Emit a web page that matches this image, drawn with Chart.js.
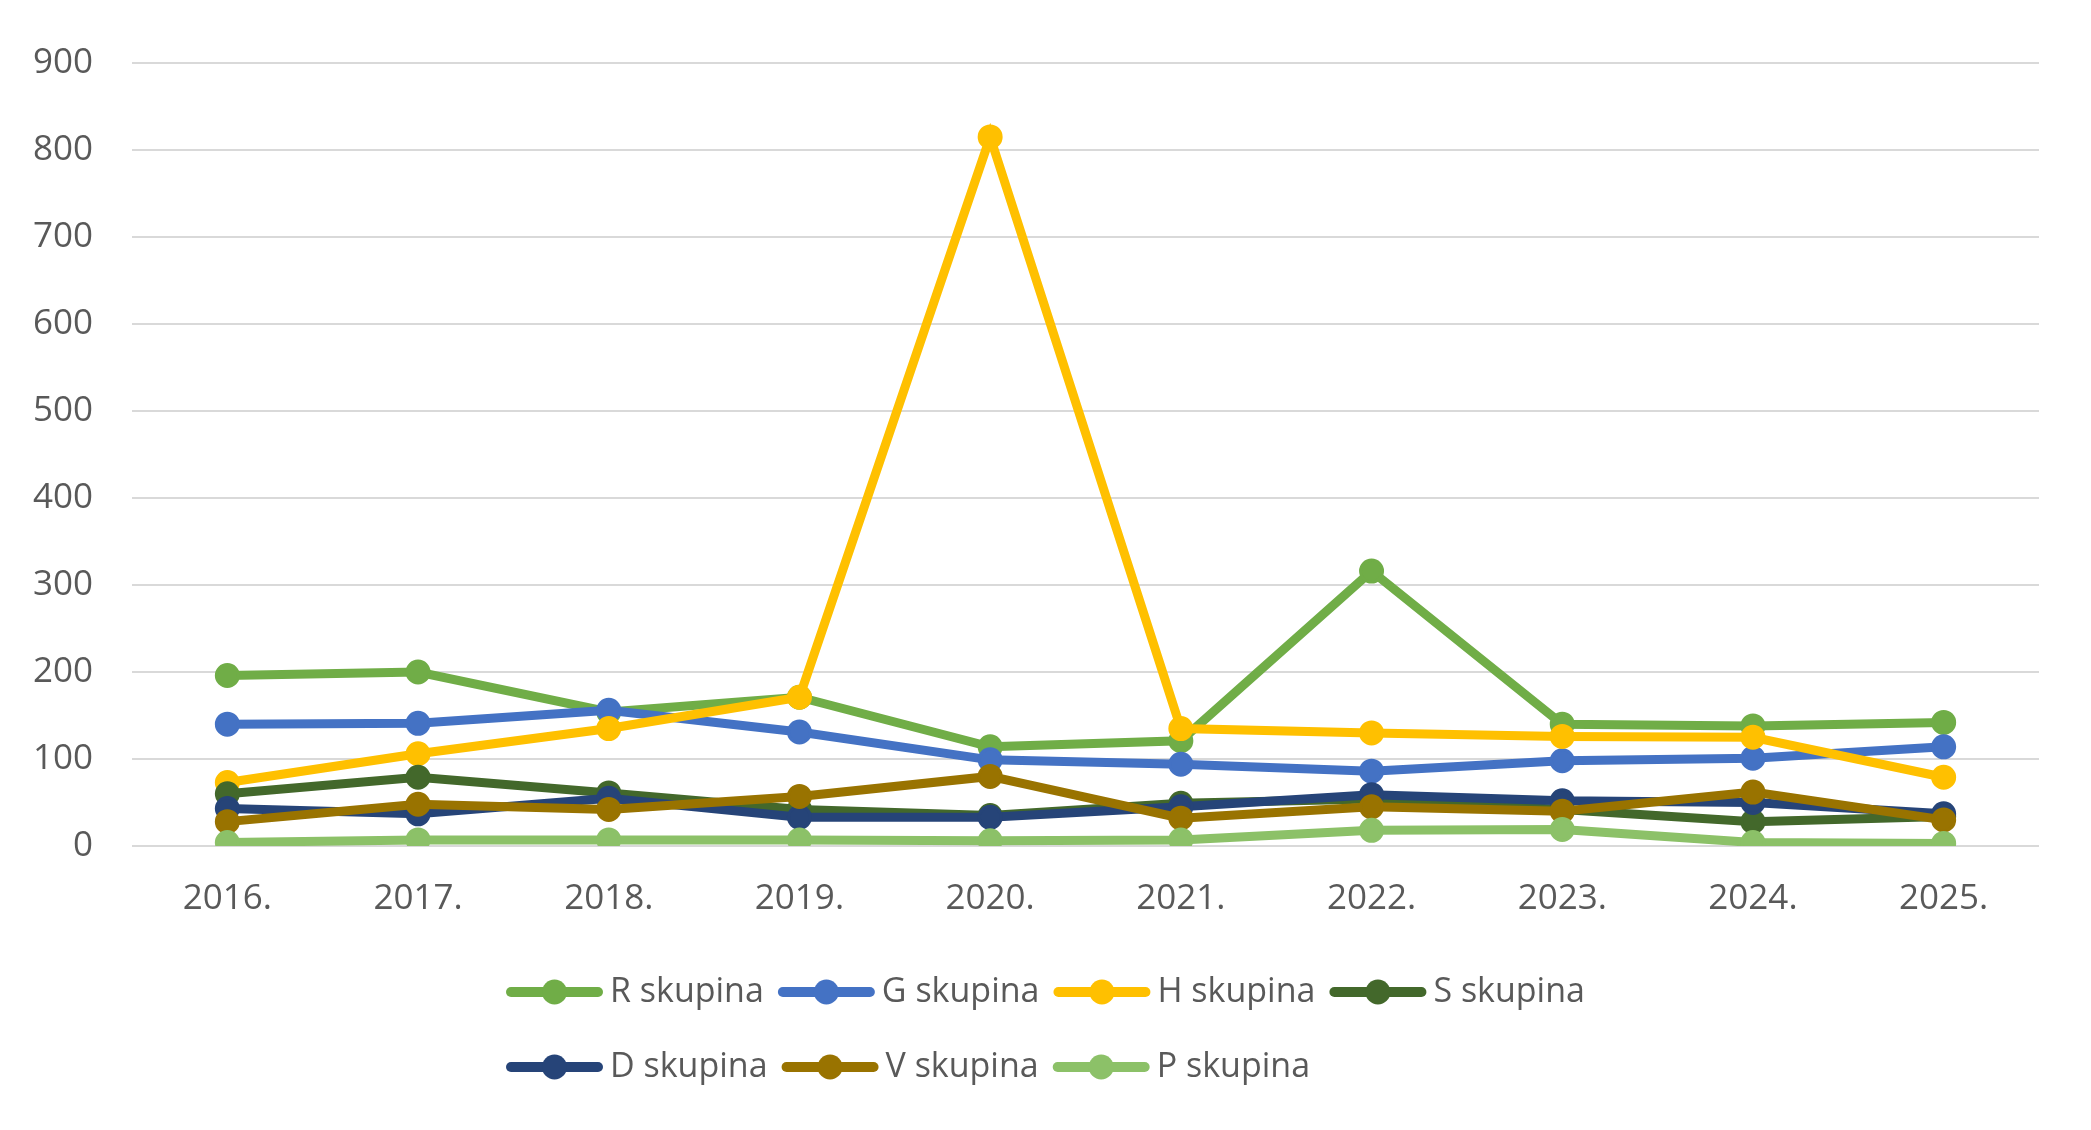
<!DOCTYPE html>
<html>
<head>
<meta charset="utf-8">
<script src="https://cdn.jsdelivr.net/npm/chart.js@4/dist/chart.umd.min.js"></script>
<style>
  html, body { margin: 0; padding: 0; background: #ffffff; }
  #wrap { width: 2091px; height: 1130px; position: relative; }
</style>
</head>
<body>
<div id="wrap"><canvas id="c"></canvas></div>
<script>
const categories = ['2016.', '2017.', '2018.', '2019.', '2020.', '2021.', '2022.', '2023.', '2024.', '2025.'];
const seriesNames = ['R skupina', 'G skupina', 'H skupina', 'S skupina', 'D skupina', 'V skupina', 'P skupina'];
const rValues = [196, 200, 154, 171, 114, 121, 316, 140, 138, 142];
const gValues = [140, 141, 156, 131, 99, 94, 86, 98, 101, 114];
const hValues = [73, 106, 135, 171, 815, 135, 130, 126, 125, 79];
const sValues = [60, 79, 61, 42, 35, 49, 54, 42, 28, 34];
const dValues = [43, 37, 55, 33, 33, 45, 59, 52, 50, 37];
const vValues = [28, 48, 42, 57, 80, 32, 45, 40, 62, 30];
const pValues = [4, 7, 7, 7, 6, 7, 18, 19, 4, 3];
const yTicks = [0, 100, 200, 300, 400, 500, 600, 700, 800, 900];

const seriesValues = [rValues, gValues, hValues, sValues, dValues, vValues, pValues];
const colors = ['#70AD47', '#4472C4', '#FFC000', '#43682B', '#264478', '#997300', '#8CC168'];
const FONT = '"Open Sans", "Noto Sans", sans-serif';
const TEXT = '#595959';

const datasets = seriesNames.map((name, i) => ({
  label: name,
  data: seriesValues[i],
  borderColor: colors[i],
  backgroundColor: colors[i],
  pointBackgroundColor: colors[i],
  pointBorderColor: colors[i],
  borderWidth: 9,
  pointRadius: 11,
  pointBorderWidth: 3,
  pointHoverRadius: 11,
  tension: 0,
  fill: false,
  order: seriesNames.length - i
}));

const customLegend = {
  id: 'customLegend',
  afterDraw(chart) {
    const ctx = chart.ctx;
    const rows = [[0, 1, 2, 3], [4, 5, 6]];
    const rowY = [992, 1067];
    const startX = 506;
    ctx.save();
    ctx.font = '34px ' + FONT;
    ctx.textBaseline = 'middle';
    ctx.textAlign = 'left';
    rows.forEach((row, r) => {
      let x = startX;
      const y = rowY[r];
      row.forEach(idx => {
        const ds = chart.data.datasets[idx];
        ctx.strokeStyle = ds.borderColor;
        ctx.lineWidth = 10;
        ctx.lineCap = 'round';
        ctx.beginPath();
        ctx.moveTo(x + 5, y);
        ctx.lineTo(x + 92, y);
        ctx.stroke();
        ctx.fillStyle = ds.borderColor;
        ctx.beginPath();
        ctx.arc(x + 48.5, y, 12.5, 0, Math.PI * 2);
        ctx.fill();
        ctx.fillStyle = TEXT;
        ctx.fillText(ds.label, x + 104, y);
        x += 104 + ctx.measureText(ds.label).width + 14;
      });
    });
    ctx.restore();
  }
};

new Chart(document.getElementById('c'), {
  type: 'line',
  data: { labels: categories, datasets },
  options: {
    responsive: true,
    maintainAspectRatio: false,
    animation: false,
    layout: { padding: { left: 32, right: 52, top: 63, bottom: 210 } },
    plugins: {
      legend: { display: false },
      tooltip: { enabled: false }
    },
    scales: {
      x: {
        offset: true,
        grid: { display: false, drawTicks: false },
        border: { display: false },
        afterFit(axis) { axis.height = 74; },
        ticks: { color: TEXT, font: { family: FONT, size: 35 }, padding: 32, maxRotation: 0, autoSkip: false }
      },
      y: {
        min: 0,
        max: 900,
        afterBuildTicks(axis) { axis.ticks = yTicks.map(v => ({ value: v })); },
        afterFit(axis) { axis.width = 100; },
        grid: { color: '#D9D9D9', lineWidth: 2, drawTicks: false },
        border: { display: false },
        ticks: { color: TEXT, font: { family: FONT, size: 35 }, padding: 39 }
      }
    }
  },
  plugins: [customLegend]
});
</script>
</body>
</html>
